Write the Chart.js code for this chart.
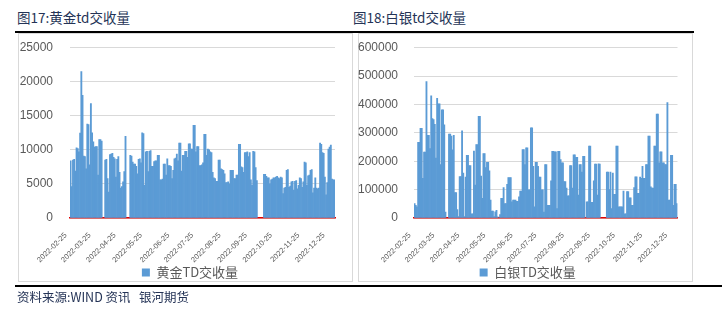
<!DOCTYPE html>
<html>
<head>
<meta charset="utf-8">
<script src="https://cdn.jsdelivr.net/npm/chart.js@4.4.0/dist/chart.umd.min.js"></script>
<style>
  body { margin: 0; width: 722px; height: 313px; overflow: hidden; position: relative; background: #fff;
         font-family: "Noto Sans CJK SC", sans-serif; }
  .title { position: absolute; top: 8px; font-size: 13.5px; line-height: 19px; color: #243356; white-space: nowrap; }
  .rule { position: absolute; height: 2px; background: #000; }
  .box { position: absolute; top: 33px; width: 333px; height: 247px; border: 1px solid #d9d9d9; }
  canvas { position: absolute; top: 33px; }
  .foot { position: absolute; left: 17px; top: 288px; font-size: 12.5px; line-height: 18px; color: #243356; white-space: pre; }
</style>
</head>
<body>
<div class="title" style="left:17px">图17:黄金td交收量</div>
<div class="title" style="left:353px">图18:白银td交收量</div>
<div class="rule" style="left:15px;top:31px;width:679px"></div>
<div class="box" style="left:18px"></div>
<div class="box" style="left:358px"></div>
<canvas id="gold" width="335" height="256" style="left:18px"></canvas>
<canvas id="silver" width="335" height="256" style="left:358px"></canvas>
<div class="rule" style="left:15px;top:285px;width:707px"></div>
<div class="foot">资料来源:WIND 资讯   银河期货</div>

<script>
// trading days run Feb 24 - Dec 30 2022, one slot per weekday
const startDate = "2022-02-24";
const endDate = "2022-12-30";

const tickLabels = ["2022-02-25", "2022-03-25", "2022-04-25", "2022-05-25", "2022-06-25", "2022-07-25",
  "2022-08-25", "2022-09-25", "2022-10-25", "2022-11-25", "2022-12-25"];

const goldLabel = "黄金TD交收量";
const silverLabel = "白银TD交收量";

const goldValues = [
  8400, 4600, 8500, 8600, 6900, 10300, 10200, 9700, 12450, 21500,
  18000, 9100, 9000, 7200, 13800, 13700, 7800, 16800, 12500, 11200,
  10400, 10500, 10500, 6300, 11500, 11500, 11300, null, null, 8500,
  8600, 5800, 3800, 9300, 9400, 9500, 8900, 8700, 6000, 8600,
  9000, 6700, 4400, 4600, 5300, 6800, 12000, null, null, null,
  9200, 9100, 8200, 7900, 7900, 7600, 6500, 8600, 8700, 8100,
  12500, 12400, 4800, 9700, 9800, 6800, 9800, 9900, 7600, 7600,
  8300, 8400, 8400, 9200, 9200, 5600, 5600, 5700, 7900, 7900,
  6300, 8700, 7700, 7700, 7600, 5800, 7000, 8700, 8800, 9400,
  8400, 11000, 11000, 6900, 9200, 9200, 9800, 9800, 8900, 10900,
  10900, 10100, 10100, 13600, 13600, 9700, 10500, 10500, 7700, 7700,
  7800, 8100, 12300, 12300, 9200, 10100, 10000, 9700, 9600, 6700,
  5900, 5800, 5400, 5400, 8500, 8500, 7200, 7100, 7000, 6500,
  5200, 5200, 5300, 5000, 7000, 7000, 7000, 5800, 5800, 6300,
  6300, 10800, 10800, 7500, 7400, 6700, 9600, 9600, 9700, 9000,
  9600, 5600, 4800, 9800, 9700, 7400, 5500, null, null, null,
  null, null, 6400, 6400, 6100, 5900, 5900, 5000, 5600, 5700,
  5900, 5900, 6000, 6100, 5900, 5800, 6000, 5900, 3600, 4400,
  4500, 7000, 7100, 4500, 4700, 5300, 5400, 4100, 5400, 5500,
  4300, 4800, 5900, 5800, 4500, 5300, 8200, 8100, 4800, 6200,
  6300, 7000, 7100, 3700, 4400, 5900, 4400, 4300, 4400, 11000,
  10800, 9600, 9500, 6000, 3400, 5200, 10100, 10400, 10700, 5700,
  5600, 5600
];

const silverValues = [
  51000, 45000, 39000, 267000, 267000, 316000, 316000, 140000, 232000, 232000,
  481000, 291000, 291000, 245000, 430000, 350000, 347000, 330000, 211000, 422000,
  402000, 402000, 188000, 381000, 381000, 328000, 21000, null, null, 296000,
  296000, 289000, 240000, 291000, 90000, 90000, 30000, 5000, 146000, 146000,
  307000, 158000, 5000, 144000, 221000, 221000, 185000, 185000, 15000, 15000,
  236000, 116000, 259000, 259000, 358000, 358000, 148000, 69000, 227000, 227000,
  178000, 196000, 196000, 166000, 63000, 24000, 24000, 5000, 22000, 27000,
  4000, null, 12000, 69000, 69000, 107000, 51000, 51000, 119000, 142000,
  142000, 142000, 57000, 63000, 63000, 63000, 59000, 59000, 75000, 95000,
  95000, 241000, 241000, 188000, 247000, 247000, 99000, 99000, 318000, 318000,
  182000, 39000, 196000, 196000, 182000, 144000, 144000, 99000, 99000, 21000,
  188000, 188000, 45000, 45000, 45000, 131000, 235000, 235000, 233000, 233000,
  33000, 235000, 235000, 206000, 194000, 194000, 128000, 128000, 105000, 78000,
  78000, 185000, 185000, 105000, 223000, 223000, 214000, 214000, 81000, 188000,
  188000, 162000, 217000, 217000, null, 57000, 57000, 253000, 253000, 55000,
  55000, 131000, 190000, 190000, 81000, 191000, 190000, null, null, null,
  null, null, 162000, 162000, 100000, 162000, 33000, 158000, 83000, 83000,
  253000, 253000, 39000, 39000, 39000, 39000, 95000, 15000, 15000, 93000,
  93000, 71000, 71000, 45000, 45000, 107000, 145000, 145000, 87000, 87000,
  144000, 140000, 182000, 140000, 140000, 188000, 188000, 289000, 289000, 110000,
  105000, 105000, 253000, 253000, 366000, 366000, 194000, 233000, 233000, 194000,
  194000, 188000, 188000, 407000, 63000, 63000, 221000, 221000, 45000, 119000,
  119000, 51000
];

function weekdays(from, to) {
  const out = [];
  const d = new Date(from + "T00:00:00Z");
  const end = new Date(to + "T00:00:00Z");
  while (d <= end) {
    const wd = d.getUTCDay();
    if (wd !== 0 && wd !== 6) out.push(d.toISOString().slice(0, 10));
    d.setUTCDate(d.getUTCDate() + 1);
  }
  return out;
}

const dates = weekdays(startDate, endDate);

// put each month label on the first trading day on/after the 25th
const tickAt = {};
tickLabels.forEach(t => {
  const i = dates.findIndex(d => d >= t);
  if (i >= 0) tickAt[i] = t;
});

Chart.defaults.font.family = '"Noto Sans CJK SC", "Liberation Sans", sans-serif';
Chart.defaults.color = "#595959";

// nudge the legend sideways so it sits under the middle of the box
const legendShift = {
  id: "legendShift",
  afterLayout(chart, args, opts) {
    const lg = chart.legend;
    if (lg && opts.dx) {
      lg.left += opts.dx;
      lg.right += opts.dx;
    }
  },
};

function makeChart(id, label, values, yMax, yStep, axisWidth, rightPad, labelGap, legendDx) {
  return new Chart(document.getElementById(id), {
    type: "bar",
    data: {
      labels: dates,
      datasets: [{
        label,
        data: values,
        backgroundColor: "#5b9bd5",
        borderWidth: 0,
        barPercentage: 1,
        categoryPercentage: 1,
      }],
    },
    plugins: [legendShift],
    options: {
      responsive: false,
      animation: false,
      devicePixelRatio: 1,
      layout: { padding: { top: 14.7, right: rightPad, bottom: 0, left: 0 } },
      plugins: {
        tooltip: { enabled: false },
        legendShift: { dx: legendDx },
        legend: {
          position: "bottom",
          labels: {
            boxWidth: 8,
            boxHeight: 8,
            padding: 1,
            color: "#595959",
            font: { size: 13 },
          },
        },
      },
      scales: {
        x: {
          z: 1,
          grid: { display: false },
          border: { display: true, color: "#e00000", width: 1.5 },
          ticks: {
            autoSkip: false,
            minRotation: 45,
            maxRotation: 45,
            padding: 5,
            labelOffset: -6,
            color: "#595959",
            font: { family: '"Liberation Sans", sans-serif', size: 7.5 },
            callback: (v, i) => tickAt[i] ?? null,
          },
          afterFit: s => { s.height = 47; },
        },
        y: {
          min: 0,
          max: yMax,
          grid: { color: "#d9d9d9", drawTicks: true, tickLength: labelGap, tickColor: "rgba(0,0,0,0)" },
          border: { display: false },
          ticks: {
            stepSize: yStep,
            padding: 0,
            color: "#595959",
            font: { family: '"Liberation Sans", sans-serif', size: 12 },
            callback: v => String(v),
          },
          afterFit: s => { s.width = axisWidth; },
        },
      },
    },
  });
}

makeChart("gold", goldLabel, goldValues, 25000, 5000, 52, 18, 17, 13.5);
makeChart("silver", silverLabel, silverValues, 600000, 100000, 56, 15.5, 16, 10);
</script>
</body>
</html>
